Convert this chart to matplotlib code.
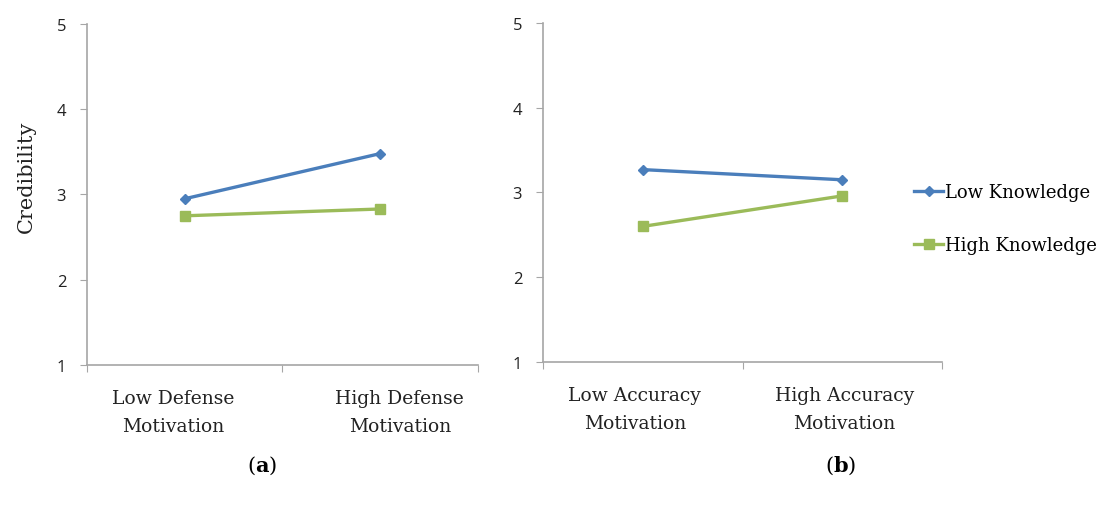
import matplotlib.pyplot as plt

plt.rcParams["mathtext.fontset"] = "dejavuserif"

# data
levels = [1, 2, 3, 4, 5]
cats_a = ["Low Defense\nMotivation", "High Defense\nMotivation"]
cats_b = ["Low Accuracy\nMotivation", "High Accuracy\nMotivation"]
low_know_a = [2.95, 3.48]
high_know_a = [2.75, 2.83]
low_know_b = [3.27, 3.15]
high_know_b = [2.60, 2.96]

blue = "#4A7EBB"
green = "#9BBB59"
axis_grey = "#A6A6A6"
txt = "#222222"
serif = ["DejaVu Serif"]
sans = ["Open Sans", "DejaVu Sans"]

fig = plt.figure(figsize=(11.10, 5.06), dpi=100)
ax_a = fig.add_axes([0.0784, 0.2767, 0.3522, 0.6739])
ax_b = fig.add_axes([0.4892, 0.2826, 0.3595, 0.6700])


def draw(ax, cats, low, high, label_x):
    xs = [0.5, 1.5]
    ax.plot(xs, low, color=blue, lw=2.4, marker="D", ms=5, label="Low Knowledge")
    ax.plot(xs, high, color=green, lw=2.4, marker="s", ms=7, label="High Knowledge")
    ax.set_xlim(0, 2)
    ax.set_ylim(1, 5)
    ax.set_yticks(levels)
    ax.set_yticklabels([str(v) for v in levels], family=sans, fontsize=12, color=txt)
    ax.set_xticks([0, 1, 2])
    ax.set_xticklabels([])
    ax.set_xticks(label_x, minor=True)
    ax.set_xticklabels(cats, minor=True, family=serif, fontsize=13.5, color=txt,
                       linespacing=1.75)
    ax.tick_params(axis="x", which="minor", length=0, pad=17)
    ax.tick_params(axis="x", which="major", length=5, color=axis_grey, direction="out")
    ax.tick_params(axis="y", length=5, color=axis_grey, direction="out", pad=10)
    for s in ["top", "right"]:
        ax.spines[s].set_visible(False)
    for s in ["left", "bottom"]:
        ax.spines[s].set_color(axis_grey)
        ax.spines[s].set_linewidth(1.2)


draw(ax_a, cats_a, low_know_a, high_know_a, [0.44, 1.6])
draw(ax_b, cats_b, low_know_b, high_know_b, [0.46, 1.51])

ax_a.set_ylabel("Credibility", family=serif, fontsize=15, color=txt)
ax_a.yaxis.set_label_coords(-0.13, 0.555)

leg = ax_b.legend(loc="center left", bbox_to_anchor=(0.89, 0.423), frameon=False,
                  prop={"family": serif, "size": 13}, handlelength=1.6,
                  handletextpad=0.1, labelspacing=1.95)

fig.text(0.236, 0.08, r"($\mathbf{a}$)", family=serif, fontsize=15, ha="center", va="center")
fig.text(0.757, 0.08, r"($\mathbf{b}$)", family=serif, fontsize=15, ha="center", va="center")

fig.savefig("out.png", dpi=100)
